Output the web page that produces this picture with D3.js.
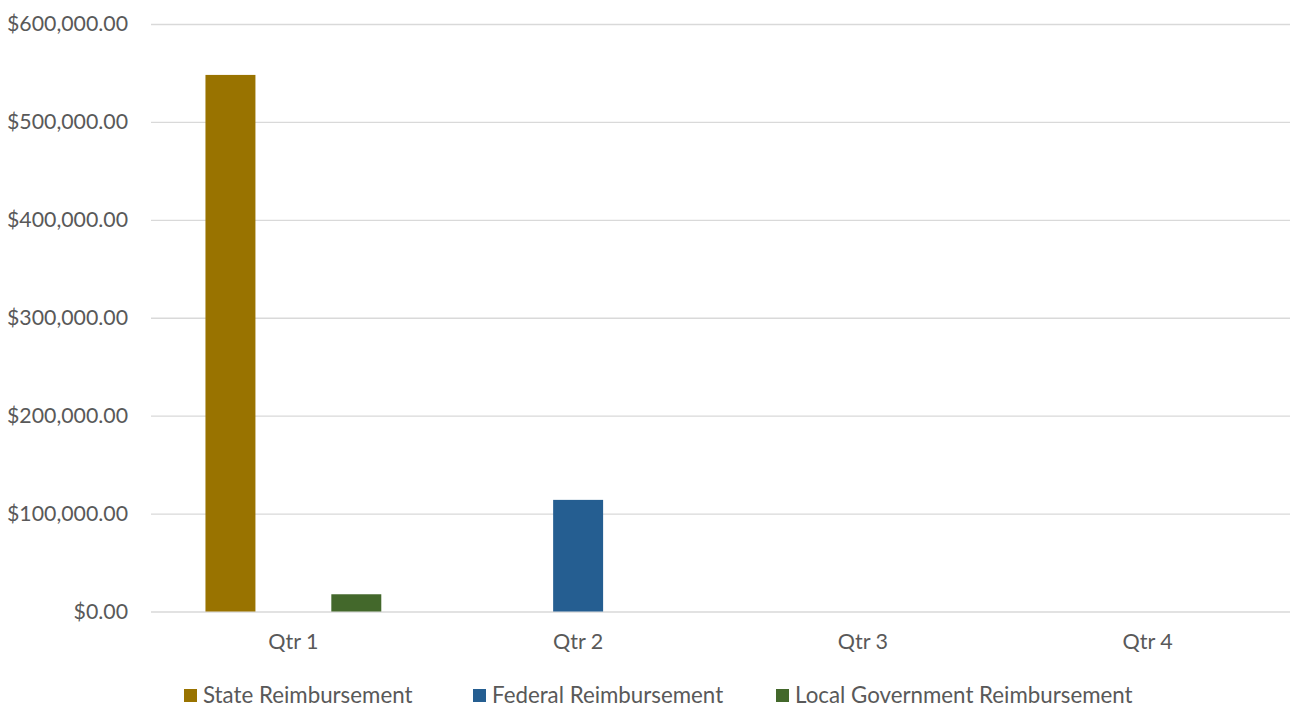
<!DOCTYPE html>
<html>
<head>
<meta charset="utf-8">
<script src="https://cdn.jsdelivr.net/npm/d3@7"></script>
<style>
  body { margin: 0; background: #fff; }
  text { font-family: Lato, "Open Sans", sans-serif; fill: #595959; }
</style>
</head>
<body>
<svg id="chart" width="1294" height="709"></svg>
<script>
// data
var quarters = ["Qtr 1", "Qtr 2", "Qtr 3", "Qtr 4"]
var seriesNames = ["State Reimbursement", "Federal Reimbursement", "Local Government Reimbursement"]
var seriesColors = ["#997300", "#255e91", "#43682b"]
var stateVals = [548000, 0, 0, 0]
var federalVals = [0, 114000, 0, 0]
var localVals = [17600, 0, 0, 0]
var yTicks = [0, 100000, 200000, 300000, 400000, 500000, 600000]

var allVals = [stateVals, federalVals, localVals]

var svg = d3.select("#chart")
var margin = {left: 151, right: 4, top: 24, bottom: 98}
var W = 1294, H = 709

var x0 = d3.scaleBand().domain(quarters)
  .range([margin.left, W - margin.right])
  .paddingInner(0.337).paddingOuter(0.1685)
var x1 = d3.scaleBand().domain(seriesNames)
  .range([0, x0.bandwidth()])
  .paddingInner(0.206).paddingOuter(0.103)
var y = d3.scaleLinear().domain([0, 600000]).range([H - margin.bottom + 0.5, margin.top])

var fmt = function(v){ return "$" + d3.format(",.2f")(v) }

// gridlines + y labels
var yAxis = d3.axisLeft(y).tickValues(yTicks).tickFormat(fmt)
  .tickSize(-(W - margin.left - margin.right)).tickPadding(23)
var ga = svg.append("g").attr("transform", "translate(" + margin.left + ",0)").call(yAxis)
ga.select(".domain").remove()
ga.selectAll(".tick line").attr("stroke", "#d9d9d9").attr("stroke-width", 1.3)
ga.selectAll(".tick text").style("font-size", "21.3px").attr("fill", "#595959")
  .style("font-family", "Lato, 'Open Sans', sans-serif")

// bars
var groups = svg.append("g").selectAll("g")
  .data(quarters).enter().append("g")
  .attr("transform", function(d){ return "translate(" + x0(d) + ",0)" })

groups.selectAll("rect")
  .data(function(q, i){ return seriesNames.map(function(s, k){ return {s: s, k: k, v: allVals[k][i]} }) })
  .enter().append("rect")
  .attr("x", function(d){ return x1(d.s) })
  .attr("width", x1.bandwidth())
  .attr("y", function(d){ return y(d.v) })
  .attr("height", function(d){ return y(0) - y(d.v) })
  .attr("fill", function(d){ return seriesColors[d.k] })

// x labels
var xAxis = d3.axisBottom(x0).tickSize(0).tickPadding(22)
var gx = svg.append("g").attr("transform", "translate(0," + y(0) + ")").call(xAxis)
gx.select(".domain").remove()
gx.selectAll(".tick text").style("font-size", "21.5px").attr("fill", "#595959")
  .style("font-family", "Lato, 'Open Sans', sans-serif")

// legend
var legendX = [184, 473, 776]
var leg = svg.append("g").selectAll("g").data(seriesNames).enter().append("g")
  .attr("transform", function(d, i){ return "translate(" + legendX[i] + ",689)" })
leg.append("rect").attr("width", 13).attr("height", 13)
  .attr("fill", function(d, i){ return seriesColors[i] })
leg.append("text").attr("x", 19).attr("y", 13.5).style("font-size", "22.3px").text(function(d){ return d })
</script>
</body>
</html>
